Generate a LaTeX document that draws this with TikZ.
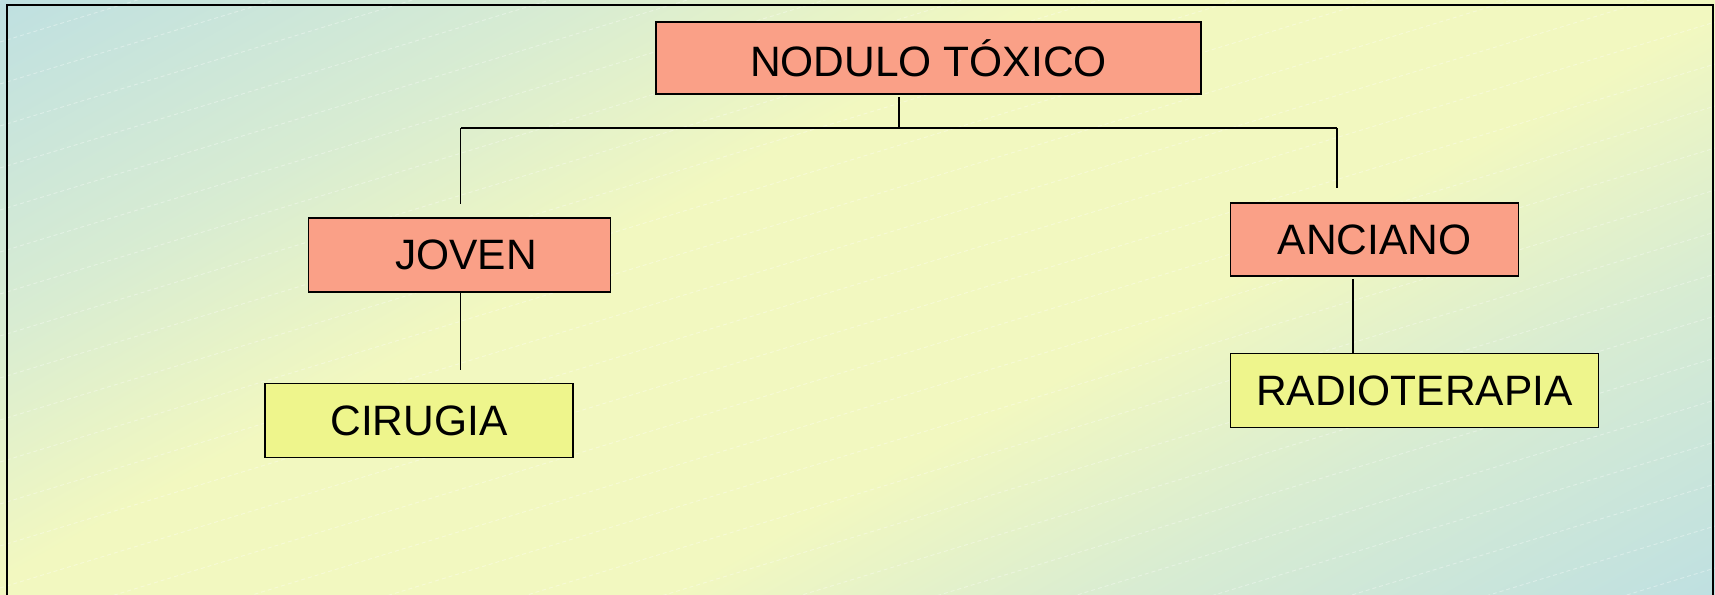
\documentclass[tikz,border=0pt]{standalone}
\usepackage{fontspec}
\setmainfont{Liberation Sans}
\definecolor{bgblue}{RGB}{189,223,226}
\definecolor{bggreen}{RGB}{216,236,210}
\definecolor{bgyellow}{RGB}{242,248,192}
\definecolor{salmon}{RGB}{250,160,135}
\definecolor{paleyellow}{RGB}{238,245,140}
\pgfdeclareverticalshading{bgshade}{100bp}{color(0bp)=(bgblue); color(25bp)=(bgblue); color(36bp)=(bggreen); color(44bp)=(bgyellow); color(56bp)=(bgyellow); color(64bp)=(bggreen); color(75bp)=(bgblue); color(100bp)=(bgblue)}
\tikzset{
  box/.style={draw=black, line width=1.8pt, inner sep=0pt, align=center,
    font=\fontsize{42.5}{50}\selectfont},
  redbox/.style={box, fill=salmon},
  yelbox/.style={box, fill=paleyellow},
  link/.style={draw=black, line width=1.9pt},
  hatch/.style={white, opacity=0.35, line width=0.9pt, dash pattern=on 4pt off 3pt},
}
\begin{document}
\begin{tikzpicture}[x=1pt,y=-1pt]
\useasboundingbox (0,0) rectangle (1715,594);
% background
\begin{scope}
  \clip (0,0) rectangle (1715,594);
  \begin{scope}[transform canvas={rotate around={29:(857.5,297)}}]
    \shade[shading=bgshade] (-342.5,-399) rectangle (2057.5,993);
  \end{scope}
  \foreach \k in {0,...,27} \draw[hatch] (0,\k*42) -- (1715,\k*42-524);
\end{scope}
% frame
\draw[line width=2.4pt] (7,600) -- (7,5) -- (1713,5) -- (1713,600);
% nodes
\node[redbox, minimum width=545pt, minimum height=72pt] (nt) at (928.5,58) {NODULO TÓXICO};
\node[redbox, minimum width=302pt, minimum height=74pt] (joven) at (459.5,255) {\hspace*{13pt}JOVEN};
\node[yelbox, minimum width=308pt, minimum height=74pt] (cir) at (419,420.5) {CIRUGIA};
\node[redbox, minimum width=288pt, minimum height=73pt] (anc) at (1374.5,239.5) {ANCIANO};
\node[yelbox, minimum width=368pt, minimum height=74pt] (rad) at (1414.5,390.5) {RADIOTERAPIA};
% connector points
\coordinate (tm) at (899,128);
\coordinate (tj) at (460.5,128);
\coordinate (ta) at (1337,128);
\coordinate (jend) at (460.5,204);
\coordinate (aend) at (1337,188);
\coordinate (jtop) at (460.5,293);
\coordinate (cend) at (460.5,370);
\coordinate (atop) at (1353,279);
% connectors
\draw[link] (nt.south -| tm) ++(0,2) -- (tm);
\draw[link] (tj) -- (ta);
\draw[link] (tj) -- (jend);
\draw[link] (ta) -- (aend);
\draw[link] (jtop) -- (cend);
\draw[link] (atop) -- (rad.north -| atop);
\end{tikzpicture}
\end{document}
